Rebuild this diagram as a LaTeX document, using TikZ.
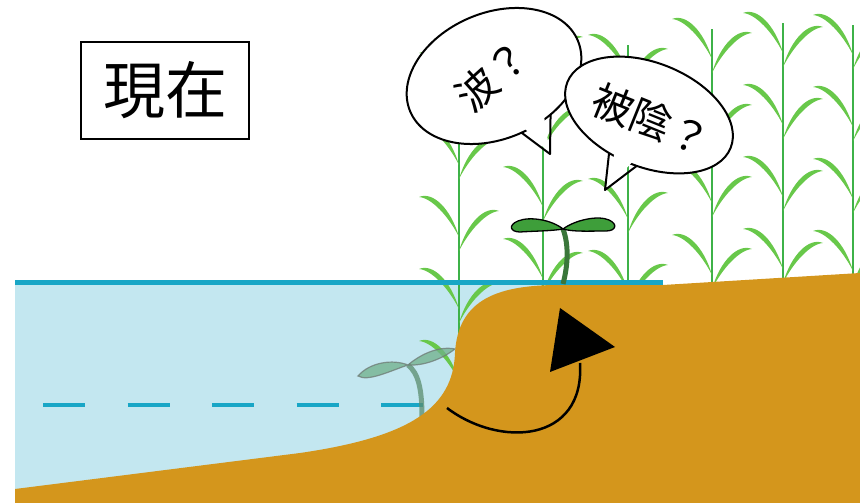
\documentclass[tikz,border=0pt]{standalone}
\usepackage{fontspec}
\newfontfamily\jp{Noto Sans CJK JP}

\definecolor{soilbrown}{RGB}{212,150,28}
\definecolor{waterblue}{RGB}{195,231,240}
\definecolor{lineblue}{RGB}{24,166,198}
\definecolor{leafgreen}{RGB}{104,200,74}
\definecolor{stemgreen}{RGB}{62,178,72}
\definecolor{sproutgreen}{RGB}{62,158,58}
\definecolor{sproutstem}{RGB}{58,118,58}
\definecolor{drowned}{RGB}{112,176,138}
\definecolor{drownedline}{RGB}{110,122,116}

\tikzset{
  reedleaf/.pic={\fill[leafgreen] (0,0) .. controls (-8,28) and (-26,46) .. (-40,40)
    .. controls (-27,39) and (-10,20) .. (0,0);},
  reedstem/.style={stemgreen, line width=2.6pt},
  surface/.style={lineblue, line width=5pt},
  bubble/.style={fill=white, draw=black, line width=2pt},
  bubbleline/.style={black, line width=2pt, line join=round},
  bubbletext/.style={font=\jp\fontsize{41}{41}\selectfont, inner sep=0pt},
  nowbox/.style={draw, line width=1.5pt, minimum width=168pt, minimum height=97pt,
    inner sep=0pt, font=\jp\fontsize{62}{62}\selectfont}
}

% x, top, bottom
\newcommand\reed[3]{%
  \draw[reedstem] (#1,#3) -- (#1,#2);
  \foreach \dy/\side in {30/1,44/-1,102/1,116/-1,174/1,188/-1,246/1,260/-1,318/1,332/-1}
    \pic[xscale=\side] at (#1,#2-\dy) {reedleaf};
}

\begin{document}
\begin{tikzpicture}[x=1pt,y=1pt]
\useasboundingbox (0,0) rectangle (860,503);
\clip (0,0) rectangle (860,503);

% water
\fill[waterblue] (15,0) rectangle (663,220);
\draw[surface, line width=4.5pt, dash pattern=on 42pt off 42.5pt] (43,98) -- (423,98);

% reeds
\reed{459}{440}{163}
\reed{543}{470}{213}
\reed{628}{458}{213}
\reed{712}{474}{215}
\reed{783}{480}{220}
\reed{853}{478}{225}

% seedling under water
\begin{scope}[opacity=0.75]
  \coordinate (dj) at (408,138);
  \draw[drowned!80!black, line width=5pt] (422,86) .. controls (422,115) and (418,130) .. (dj);
  \filldraw[fill=drowned, draw=drownedline, line width=1.2pt]
    (dj) .. controls (393,144) and (370,141) .. (358,127) .. controls (368,121) and (390,132) .. (dj);
  \filldraw[fill=drowned, draw=drownedline, line width=1.2pt]
    (dj) .. controls (424,137) and (442,144) .. (455,154) .. controls (440,157) and (422,150) .. (dj);
\end{scope}

% ground
\fill[soilbrown] (15,0) -- (15,14) -- (300,50) .. controls (410,66) and (453,95) .. (455,150)
  .. controls (458,205) and (500,218) .. (560,218) -- (663,218) -- (860,230) -- (860,0) -- cycle;
\draw[surface] (15,220) -- (663,220);

% seedling on the bank
\coordinate (sj) at (563,274);
\draw[sproutstem, line width=5pt] (563,219) .. controls (568,238) and (569,258) .. (sj);
\filldraw[fill=sproutgreen, draw=black, line width=1.3pt]
  (sj) .. controls (552,283) and (530,287) .. (518,282) .. controls (508,278) and (510,271) .. (520,271)
  .. controls (535,272) and (552,272) .. (sj);
\filldraw[fill=sproutgreen, draw=black, line width=1.3pt]
  (sj) .. controls (575,283) and (598,288) .. (609,283) .. controls (618,279) and (616,272) .. (606,272)
  .. controls (590,272) and (573,271) .. (sj);

% turning arrow
\coordinate (root) at (447,95);
\coordinate (shoot) at (580,140);
\draw[line width=2.5pt] (root) .. controls (500,55) and (585,60) .. (shoot);
\fill (560,195) -- (615,156) -- (550,131) -- cycle;

% first bubble
\begin{scope}[shift={(494,427)},rotate=23]
  \filldraw[bubble] (0,0) ellipse [x radius=91, y radius=63];
  \coordinate (wa) at (-88:91 and 63);
  \coordinate (wb) at (-66:91 and 63);
  \coordinate (wai) at (-86:84 and 56);
  \coordinate (wbi) at (-68:84 and 56);
\end{scope}
\coordinate (wtip) at (550,349);
\fill[white] (wai) -- (wtip) -- (wbi) -- cycle;
\draw[bubbleline] (wa) -- (wtip) -- (wb);
\node[bubbletext, rotate=42] (wave) at (493,427) {波？};

% second bubble
\begin{scope}[shift={(649,388)},rotate=-22]
  \filldraw[bubble] (0,0) ellipse [x radius=88, y radius=52];
  \coordinate (sa) at (-105:88 and 52);
  \coordinate (sb) at (-85:88 and 52);
  \coordinate (sai) at (-103:81 and 45);
  \coordinate (sbi) at (-87:81 and 45);
\end{scope}
\coordinate (stip) at (605,313);
\fill[white] (sai) -- (stip) -- (sbi) -- cycle;
\draw[bubbleline] (sa) -- (stip) -- (sb);
\node[bubbletext, rotate=-22] (shade) at (651,383) {被陰？};

\node[nowbox] (now) at (165,412.5) {現在};
\end{tikzpicture}
\end{document}
